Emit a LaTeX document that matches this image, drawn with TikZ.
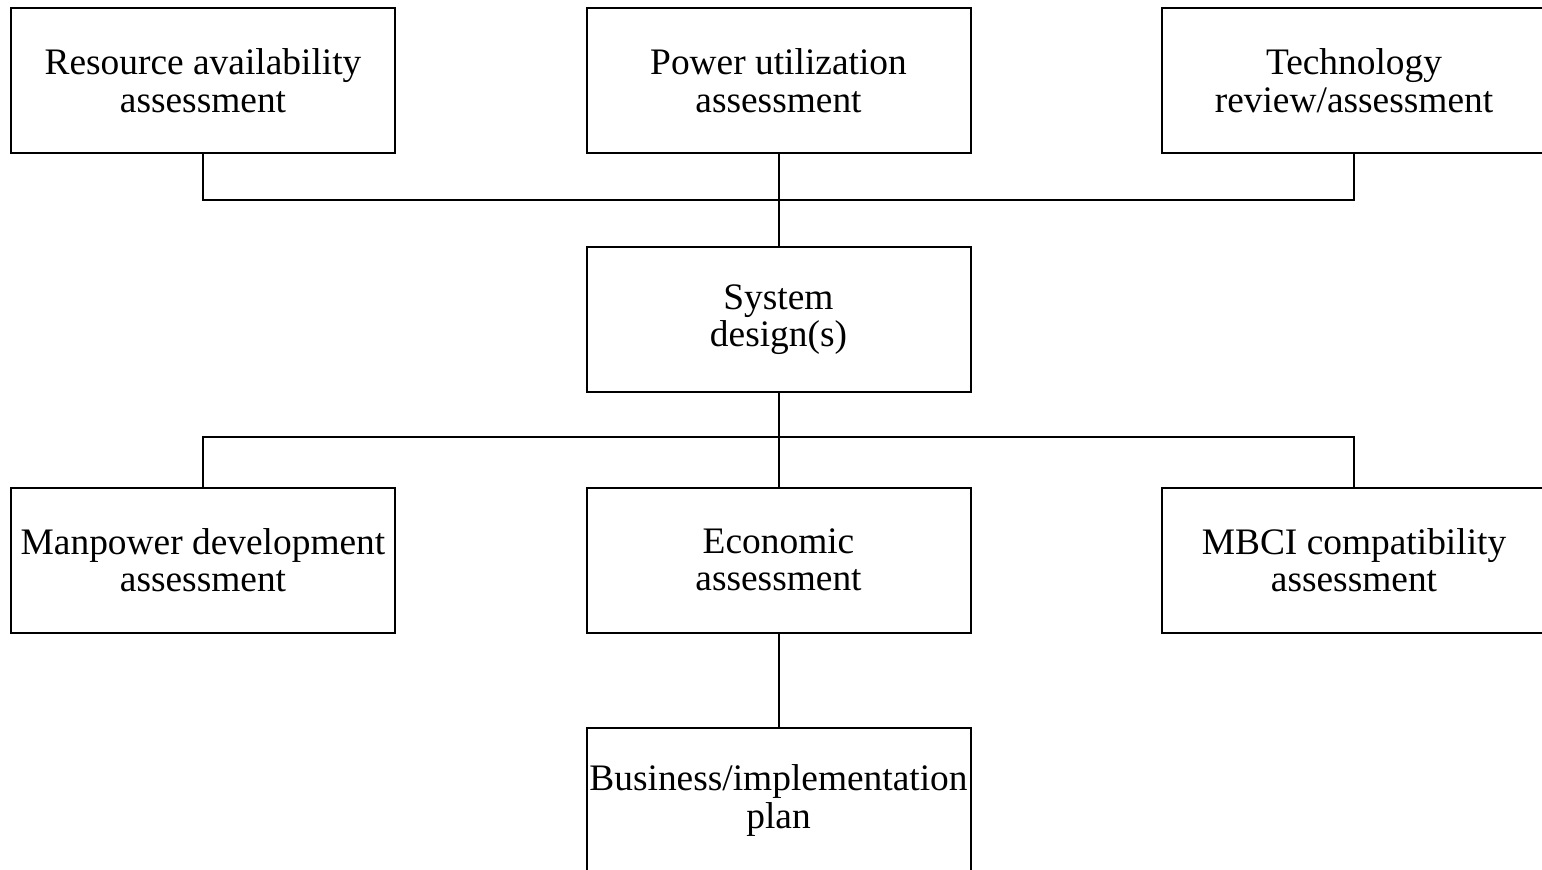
\documentclass[tikz,border=0pt]{standalone}
\usepackage{fontspec}
\setmainfont{Liberation Serif}
\begin{document}
\begin{tikzpicture}[x=1pt,y=-1pt,
  box/.style={draw, line width=2pt, rectangle, minimum width=384pt, minimum height=145pt,
    inner sep=0pt, align=center, font=\fontsize{37.4}{37.5}\selectfont},
  conn/.style={line width=2pt}]
\useasboundingbox (0,0) rectangle (1542,870);
\clip (0,0) rectangle (1542,870);
\node[box] (res)  at (203,80.5)    {Resource availability\\assessment};
\node[box] (pow)  at (778.5,80.5)  {Power utilization\\assessment};
\node[box] (tech) at (1354,80.5)   {Technology\\review/assessment};
\node[box] (sys)  at (778.5,319.5) {System\\design(s)};
\node[box] (man)  at (203,560)     {Manpower development\\assessment};
\node[box] (eco)  at (778.5,560)   {Economic\\assessment};
\node[box] (mbci) at (1354,560)    {MBCI compatibility\\assessment};
\node[box] (biz)  at (778.5,800.5) {Business/implementation\\plan};
\coordinate (j1) at (778.5,199.5);
\coordinate (j2) at (778.5,437);
\draw[conn] (res.south) |- (j1);
\draw[conn] (tech.south) |- (j1);
\draw[conn] (pow.south) -- (sys.north);
\draw[conn] (sys.south) -- (eco.north);
\draw[conn] (man.north) |- (j2) -| (mbci.north);
\draw[conn] (eco.south) -- (biz.north);
\end{tikzpicture}
\end{document}
